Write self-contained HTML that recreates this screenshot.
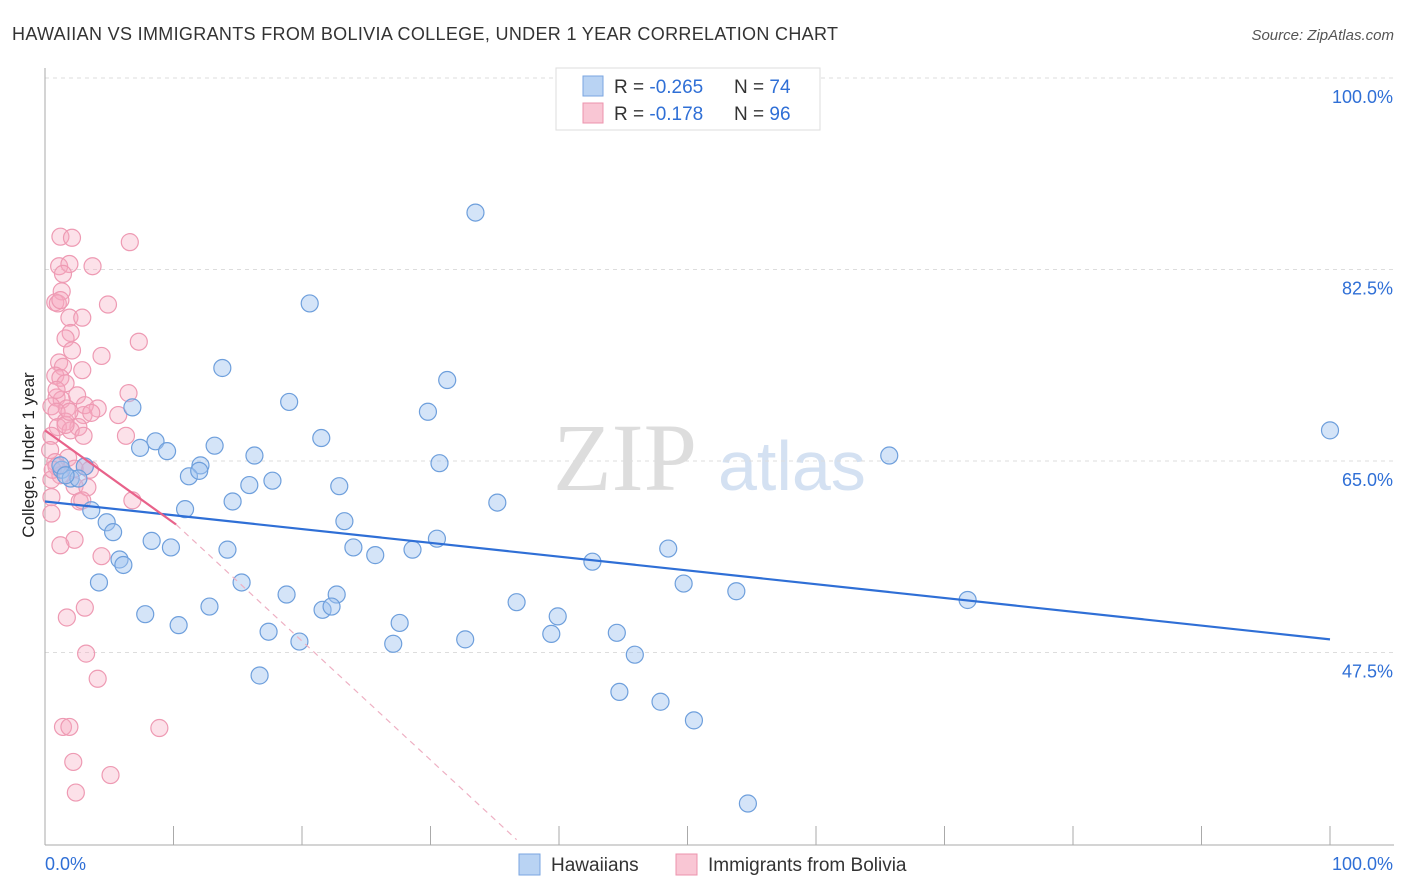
<!DOCTYPE html>
<html><head><meta charset="utf-8"><style>
body{margin:0;background:#fff;font-family:"Liberation Sans",sans-serif}
svg{display:block}
</style></head><body>
<svg id="chart" width="1406" height="892">
<text x="12" y="40" font-size="18" fill="#333" textLength="826">HAWAIIAN VS IMMIGRANTS FROM BOLIVIA COLLEGE, UNDER 1 YEAR CORRELATION CHART</text>
<text x="1394" y="40" font-size="15" fill="#555" font-style="italic" text-anchor="end">Source: ZipAtlas.com</text>
<text x="553" y="490" font-size="96" fill="#ddd" font-family="Liberation Serif">ZIP</text>
<text x="718" y="490" font-size="70" fill="#d4e1f2">atlas</text>
<text transform="translate(34,455) rotate(-90)" font-size="17" fill="#222" text-anchor="middle">College, Under 1 year</text>
<g id="grid"></g><g id="marks"></g>
<g>
<rect x="556" y="68" width="264" height="62" fill="#fff" stroke="#ddd"/>
<rect x="583" y="76" width="20" height="20" fill="#b9d3f3" stroke="#7aa6e0"/>
<rect x="583" y="103" width="20" height="20" fill="#f9c6d4" stroke="#ec93ad"/>
<text x="614" y="93" font-size="19" fill="#333">R = <tspan fill="#2f6fd6">-0.265</tspan></text>
<text x="734" y="93" font-size="19" fill="#333">N = <tspan fill="#2f6fd6">74</tspan></text>
<text x="614" y="120" font-size="19" fill="#333">R = <tspan fill="#2f6fd6"> -0.178</tspan></text>
<text x="734" y="120" font-size="19" fill="#333">N = <tspan fill="#2f6fd6">96</tspan></text>
</g>
<g>
<rect x="519" y="854" width="21" height="21" fill="#b9d3f3" stroke="#7aa6e0"/>
<text x="551" y="871" font-size="19" fill="#333">Hawaiians</text>
<rect x="676" y="854" width="21" height="21" fill="#f9c6d4" stroke="#ec93ad"/>
<text x="708" y="871" font-size="19" fill="#333">Immigrants from Bolivia</text>
</g>
</svg>
<script>
const yTicks=[100,82.5,65,47.5];
const yTickLabels=["100.0%","82.5%","65.0%","47.5%"];
const blueX=[33.5,20.6,13.8,31.3,19.0,29.8,6.8,21.5,8.6,7.4,9.5,13.2,16.3,30.7,12.1,11.2,12.0,17.7,15.9,22.9,14.6,35.2,10.9,3.6,4.8,23.3,5.3,30.5,8.3,9.8,24.0,14.2,28.6,25.7,48.5,42.6,5.8,6.1,4.2,15.3,49.7,18.8,22.7,53.8,36.7,12.8,21.6,22.3,71.8,7.8,39.9,10.4,27.6,17.4,39.4,44.5,32.7,19.8,27.1,45.9,16.7,44.7,47.9,50.5,54.7,100,65.7,1.3,3.1,2.0,2.6,1.2,1.6];
const blueY=[87.7,79.4,73.5,72.4,70.4,69.5,69.9,67.1,66.8,66.2,65.9,66.4,65.5,64.8,64.6,63.6,64.1,63.2,62.8,62.7,61.3,61.2,60.6,60.5,59.4,59.5,58.5,57.9,57.7,57.1,57.1,56.9,56.9,56.4,57.0,55.8,56.0,55.5,53.9,53.9,53.8,52.8,52.8,53.1,52.1,51.7,51.4,51.7,52.3,51.0,50.8,50.0,50.2,49.4,49.2,49.3,48.7,48.5,48.3,47.3,45.4,43.9,43.0,41.3,33.7,67.8,65.5,64.2,64.5,63.4,63.4,64.6,63.7];
const pinkX=[1.2,2.1,6.6,1.1,1.9,3.7,1.4,1.3,0.8,1.0,1.2,4.9,1.9,2.9,2.0,1.6,7.3,2.1,4.4,1.1,1.4,2.9,0.8,1.2,1.6,2.5,6.5,0.9,1.3,0.5,1.7,0.9,4.1,5.7,3.0,1.6,1.0,2.6,2.0,0.5,3.0,6.3,0.4,1.8,0.8,3.1,3.5,2.3,1.2,0.5,2.3,3.3,0.5,6.8,2.7,2.9,0.5,2.3,1.2,4.4,3.1,1.7,3.2,4.1,1.4,1.9,8.9,2.2,5.1,2.4,0.9,0.6,1.6,1.9,3.1,3.6,0.9];
const pinkY=[85.5,85.4,85.0,82.8,83.0,82.8,82.1,80.5,79.5,79.4,79.7,79.3,78.1,78.1,76.7,76.2,75.9,75.1,74.6,74.0,73.6,73.3,72.8,72.6,72.1,71.0,71.2,70.8,70.6,70.0,69.8,69.5,69.8,69.2,69.2,68.6,68.1,68.1,67.8,67.3,67.3,67.3,66.0,65.3,64.9,64.5,64.2,64.3,63.7,63.3,62.7,62.6,61.7,61.4,61.3,61.4,60.2,57.8,57.3,56.3,51.6,50.7,47.4,45.1,40.7,40.7,40.6,37.5,36.3,34.7,64.5,64.2,68.3,69.5,70.1,69.4,71.5];
const blueTrend=[61.3,48.7];
const pinkTrend=[67.8,30.4];
const pinkTrendEndX=36.7, pinkSolidEndX=10.2, pinkSolidEndY=59.2;

const NS="http://www.w3.org/2000/svg";
const sx=v=>45+v*12.85;
const sy=v=>78+(100-v)*10.943;
function mk(tag,attrs,parent){const e=document.createElementNS(NS,tag);for(const k in attrs)e.setAttribute(k,attrs[k]);parent.appendChild(e);return e;}
const grid=document.getElementById('grid'), marks=document.getElementById('marks');
yTicks.forEach((t,i)=>{
 const l=mk('line',{x1:45,x2:1394,y1:sy(t),y2:sy(t),stroke:'#ddd','stroke-dasharray':'4,4'},grid);
 
 
 const tx=mk('text',{x:1393,y:sy(t)+25,'font-size':18,fill:'#2f6fd6','text-anchor':'end'},grid);
 tx.textContent=yTickLabels[i];
 
 
});
const ax=mk('line',{x1:45,x2:45,y1:68,y2:845,stroke:'#aaa'},grid);


const bx=mk('line',{x1:45,x2:1394,y1:845,y2:845,stroke:'#aaa'},grid);


for(let i=0;i<=10;i++){const t=mk('line',{x1:sx(i*10),x2:sx(i*10),y1:826,y2:845,stroke:'#aaa'},grid);
 
 }
const xl=mk('text',{x:45,y:870,'font-size':18,fill:'#2f6fd6'},grid);xl.textContent='0.0%';


const xr=mk('text',{x:1393,y:870,'font-size':18,fill:'#2f6fd6','text-anchor':'end'},grid);xr.textContent='100.0%';


pinkX.forEach((x,i)=>{const c=mk('circle',{cx:sx(x),cy:sy(pinkY[i]),r:8.5,fill:'rgba(246,170,192,0.35)',stroke:'#ee9ab3','stroke-width':1.2},marks);
 
 });
blueX.forEach((x,i)=>{const c=mk('circle',{cx:sx(x),cy:sy(blueY[i]),r:8.5,fill:'rgba(160,196,240,0.45)',stroke:'#6e9fdc','stroke-width':1.2},marks);
 
 });
const bl=mk('line',{x1:sx(0),y1:sy(blueTrend[0]),x2:sx(100),y2:sy(blueTrend[1]),stroke:'#2f6fd6','stroke-width':2.2},marks);


const ps=mk('line',{x1:sx(0),y1:sy(pinkTrend[0]),x2:sx(pinkSolidEndX),y2:sy(pinkSolidEndY),stroke:'#e8628a','stroke-width':2.2},marks);


const pd=mk('line',{x1:sx(pinkSolidEndX),y1:sy(pinkSolidEndY),x2:sx(pinkTrendEndX),y2:sy(pinkTrend[1]),stroke:'#eeb0c3','stroke-width':1.2,'stroke-dasharray':'6,5'},marks);


</script>
</body></html>
